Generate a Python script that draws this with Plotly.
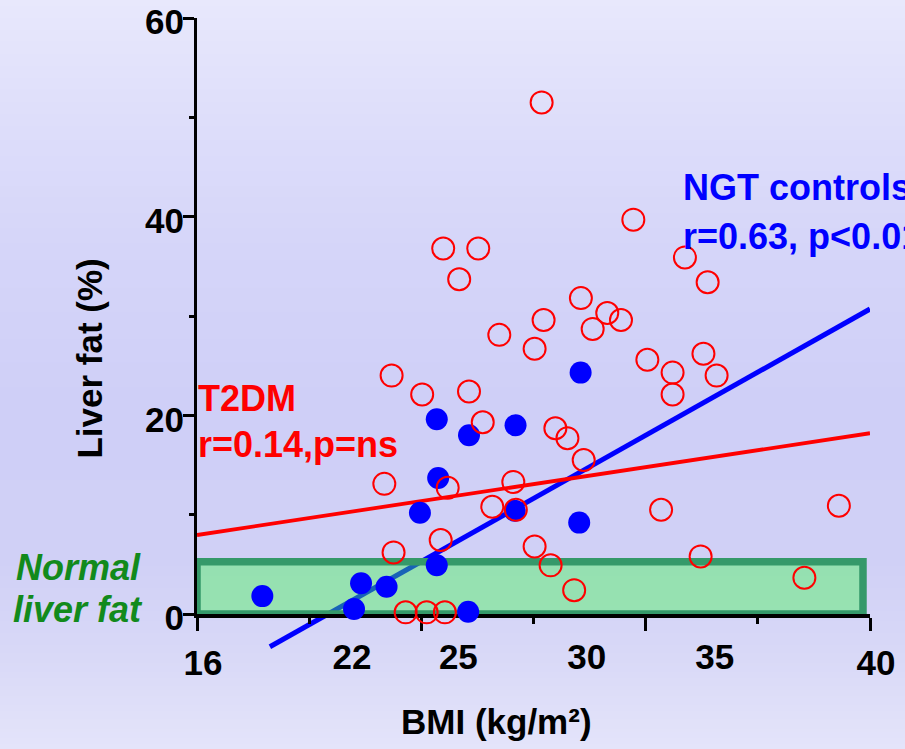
import plotly.graph_objects as go

# ---- data ---------------------------------------------------------------
# T2DM patients: BMI (kg/m2) and liver fat (%)
t2dm_bmi = [28.29, 24.78, 26.03, 25.35, 31.56, 33.40, 34.21, 29.69, 30.63, 31.12,
            30.11, 28.36, 26.78, 28.04, 32.06, 32.96, 32.96, 34.06, 34.53, 22.94,
            24.03, 25.70, 26.19, 28.78, 29.21, 29.79, 22.68, 24.94, 27.28, 26.53,
            27.37, 32.55, 38.89, 24.69, 23.01, 28.04, 28.61, 33.96, 37.66, 29.45,
            23.44, 24.19, 24.84]
t2dm_fat = [51.5, 36.8, 36.8, 33.7, 39.7, 35.9, 33.4, 31.8, 30.3, 29.6,
            28.7, 29.6, 28.1, 26.7, 25.6, 24.3, 22.1, 26.2, 24.0, 24.0,
            22.1, 22.4, 19.3, 18.7, 17.7, 15.5, 13.1, 12.7, 13.3, 10.8,
            10.5, 10.5, 10.9, 7.45, 6.2, 6.8, 4.9, 5.8, 3.65, 2.4,
            0.17, 0.17, 0.17]

# NGT controls: BMI (kg/m2) and liver fat (%)
ngt_bmi = [18.33, 21.60, 21.85, 22.76, 24.55, 23.95, 24.60, 24.55, 25.70, 27.36,
           27.33, 29.63, 29.68, 25.67]
ngt_fat = [1.8, 0.5, 3.1, 2.75, 4.9, 10.2, 13.7, 19.6, 18.0, 19.0,
           10.4, 9.2, 24.3, 0.23]

# regression lines (end points)
t2dm_fit_bmi = [16.0, 40.0]
t2dm_fit_fat = [7.95, 18.2]
ngt_fit_bmi = [18.6, 40.0]
ngt_fit_fat = [-3.3, 30.7]

# normal liver fat band
normal_bmi = [16.0, 39.75]
normal_fat = [0.0, 5.25]

# axes
bmi_range = [16, 40]
fat_range = [0, 60]
fat_ticks = [0, 20, 40, 60]
bmi_major_ticks = [16, 24, 32, 40]
bmi_major_text = ["16", "", "", "40"]
bmi_label_pos = [21.53, 25.32, 29.90, 34.46]
bmi_label_text = ["22", "25", "30", "35"]

# ---- page geometry (px) ---------------------------------------------------
W, H = 905, 749
L, R, T, B = 197, 35, 18, 69
PLOT_W = W - L - R
PLOT_H = H - T - B
AXIS_PX = 614                      # pixel row of liver fat = 0
domain_lo = (H - B - AXIS_PX) / PLOT_H
px_per_unit = (AXIS_PX - T) / (fat_range[1] - fat_range[0])
ext_lo = fat_range[0] - (H - B - AXIS_PX) / px_per_unit


def paper_x(px):
    return (px - L) / PLOT_W


def paper_y(py):
    return (H - B - py) / PLOT_H


FONT = "Liberation Sans, Arial, sans-serif"
RED = "#ff0000"
BLUE = "#0000ff"
GREEN_TXT = "#128a1c"

fig = go.Figure()

# lines and the normal band live on an unclipped, taller overlay (x / y)
fig.add_trace(go.Scatter(x=ngt_fit_bmi, y=ngt_fit_fat, mode="lines",
                         line=dict(color=BLUE, width=5), xaxis="x", yaxis="y",
                         hoverinfo="skip"))
fig.add_trace(go.Scatter(x=t2dm_fit_bmi, y=t2dm_fit_fat, mode="lines",
                         line=dict(color=RED, width=3.8), xaxis="x", yaxis="y",
                         hoverinfo="skip"))
band_x = [normal_bmi[0], normal_bmi[1], normal_bmi[1], normal_bmi[0], normal_bmi[0]]
band_y = [normal_fat[0], normal_fat[0], normal_fat[1], normal_fat[1], normal_fat[0]]
fig.add_trace(go.Scatter(x=band_x, y=band_y, mode="lines", fill="toself",
                         fillcolor="rgba(60,248,74,0.40)",
                         line=dict(color="#35996a", width=7.5),
                         xaxis="x", yaxis="y", hoverinfo="skip"))

# markers on the visible axes (x / y2)
fig.add_trace(go.Scatter(x=ngt_bmi, y=ngt_fat, mode="markers", name="NGT controls",
                         marker=dict(symbol="circle", size=22, color=BLUE,
                                     line=dict(width=0)),
                         cliponaxis=False, xaxis="x", yaxis="y2"))
fig.add_trace(go.Scatter(x=t2dm_bmi, y=t2dm_fat, mode="markers", name="T2DM",
                         marker=dict(symbol="circle-open", size=22, color=RED,
                                     line=dict(width=2, color=RED)),
                         cliponaxis=False, xaxis="x", yaxis="y2"))
# carrier for the secondary BMI labels
fig.add_trace(go.Scatter(x=[], y=[], xaxis="x2", yaxis="y2", hoverinfo="skip"))

# soft lavender page gradient
stops = [(0, (232, 232, 252)), (120, (222, 222, 250)), (250, (213, 213, 249)),
         (400, (207, 207, 247)), (560, (208, 208, 246)), (650, (216, 216, 247)),
         (749, (228, 228, 250))]


def grad(py):
    for (p0, c0), (p1, c1) in zip(stops[:-1], stops[1:]):
        if p0 <= py <= p1:
            t = (py - p0) / (p1 - p0)
            return "rgb(%d,%d,%d)" % tuple(round(a + (b - a) * t) for a, b in zip(c0, c1))
    return "rgb(%d,%d,%d)" % stops[-1][1]


shapes = []
step = 3
for py in range(0, H, step):
    shapes.append(dict(type="rect", xref="paper", yref="paper",
                       x0=paper_x(0), x1=paper_x(W),
                       y0=paper_y(py + step), y1=paper_y(py) + 0.0005,
                       line=dict(width=0),
                       fillcolor=grad(py + step / 2), layer="below"))

tick_font = dict(family=FONT, size=35, color="black", weight="bold")


def label(text, px, py, color, size=36, xanchor="left", angle=0):
    return dict(text=text, x=paper_x(px), y=paper_y(py), xref="paper", yref="paper",
                xanchor=xanchor, yanchor="middle", textangle=angle, showarrow=False,
                font=dict(family=FONT, size=size, color=color))


annotations = [
    label("<b>NGT controls</b>", 681, 187, BLUE),
    label("<b>r=0.63, p<0.01</b>", 681, 236, BLUE),
    label("<b>T2DM</b>", 196, 398, RED),
    label("<b>r=0.14,p=ns</b>", 196, 444, RED),
    label("<b><i>Normal</i></b>", 143, 567.5, GREEN_TXT, xanchor="right"),
    label("<b><i>liver fat</i></b>", 145, 609, GREEN_TXT, xanchor="right"),
    label("<b>Liver fat (%)</b>", 88.6, 359, "black", size=35, xanchor="center", angle=-90),
    label("<b>BMI (kg/m²)</b>", 496, 721, "black", size=35, xanchor="center"),
]

fig.update_layout(
    template="none",
    width=W, height=H, autosize=False,
    margin=dict(l=L, r=R, t=T, b=B, pad=0, autoexpand=False),
    paper_bgcolor="rgb(224,224,250)", plot_bgcolor="rgba(0,0,0,0)",
    showlegend=False, shapes=shapes, annotations=annotations,
    xaxis=dict(range=bmi_range, anchor="y2", showgrid=False, zeroline=False,
               automargin=False,
               showline=True, linecolor="black", linewidth=3.5,
               tickmode="array", tickvals=bmi_major_ticks, ticktext=bmi_major_text,
               ticks="outside", ticklen=13, tickwidth=2.5, tickcolor="black",
               minor=dict(ticks="outside", tickmode="linear", tick0=16, dtick=4,
                          ticklen=6.5, tickwidth=2.5, tickcolor="black", showgrid=False),
               tickfont=tick_font, ticklabelshift=6, ticklabelstandoff=2,
               ticklabeloverflow="allow", layer="below traces", fixedrange=True),
    xaxis2=dict(range=bmi_range, overlaying="x", anchor="y2", side="bottom",
                automargin=False,
                showgrid=False, zeroline=False, showline=False,
                tickmode="array", tickvals=bmi_label_pos, ticktext=bmi_label_text,
                ticks="", tickfont=tick_font, ticklabelstandoff=19,
                ticklabeloverflow="allow", layer="below traces", fixedrange=True),
    yaxis=dict(domain=[0, 1], range=[ext_lo, fat_range[1]], visible=False,
               automargin=False,
               showgrid=False, zeroline=False, fixedrange=True),
    yaxis2=dict(domain=[domain_lo, 1], range=fat_range, anchor="x",
                automargin=False,
                showgrid=False, zeroline=False, showline=True,
                linecolor="black", linewidth=3,
                tickmode="array", tickvals=fat_ticks,
                ticks="outside", ticklen=11, tickwidth=2.5, tickcolor="black",
                minor=dict(ticks="outside", tickmode="linear", tick0=0, dtick=10,
                           ticklen=5, tickwidth=2.5, tickcolor="black", showgrid=False),
                tickfont=tick_font, ticklabelstandoff=-8, ticklabelshift=4,
                ticklabeloverflow="allow", layer="below traces", fixedrange=True),
)

fig.write_html("out.html")
